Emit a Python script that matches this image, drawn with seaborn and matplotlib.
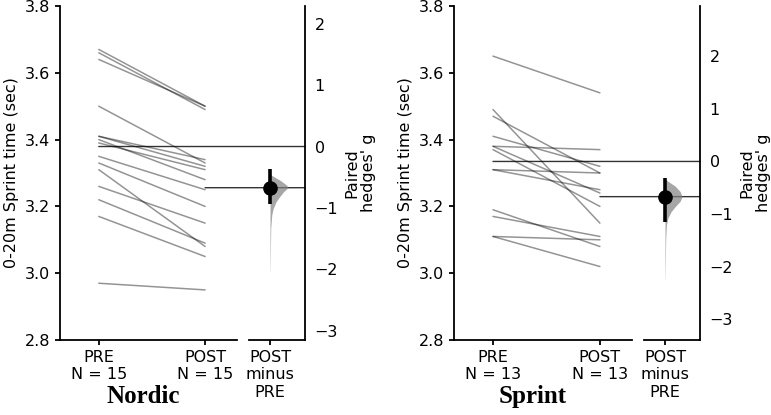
# -*- coding: utf-8 -*-
# %% imports
import numpy as np
import pandas as pd
import matplotlib
matplotlib.use('Agg')
import matplotlib.pyplot as plt
import seaborn as sns
from matplotlib.patches import ConnectionPatch

# %% values
groups = ['PRE', 'POST']

nordic_pre = [3.67, 3.66, 3.64, 3.50, 3.41, 3.41, 3.40, 3.39, 3.35, 3.33, 3.31, 3.26, 3.22, 3.17, 2.97]
nordic_post = [3.50, 3.49, 3.50, 3.33, 3.34, 3.32, 3.28, 3.31, 3.25, 3.20, 3.08, 3.15, 3.09, 3.05, 2.95]

sprint_pre = [3.65, 3.49, 3.47, 3.41, 3.38, 3.38, 3.37, 3.31, 3.31, 3.19, 3.17, 3.11, 3.11]
sprint_post = [3.54, 3.15, 3.30, 3.32, 3.37, 3.24, 3.20, 3.30, 3.25, 3.08, 3.11, 3.10, 3.02]

# paired hedges' g with 95% CI
nordic_g = -0.67
nordic_ci = [-0.37, -0.94]
sprint_g = -0.67
sprint_ci = [-0.31, -1.15]

# outline of the bootstrap distribution (g value, half width)
nordic_dist_g = [-0.44, -0.47, -0.55, -0.63, -0.67, -0.74, -0.82, -0.90, -1.01, -1.11, -1.33, -2.03]
nordic_dist_w = [0, 0.05, 0.29, 0.48, 0.51, 0.38, 0.27, 0.17, 0.09, 0.05, 0.02, 0.004]
sprint_dist_g = [-0.33, -0.38, -0.47, -0.57, -0.67, -0.76, -0.86, -0.96, -1.08, -1.21, -1.47, -2.24]
sprint_dist_w = [0, 0.09, 0.29, 0.43, 0.49, 0.43, 0.29, 0.17, 0.08, 0.04, 0.02, 0.004]

# %% style
sns.set_theme(style='ticks')
plt.rcParams['font.family'] = ['DejaVu Sans']
plt.rcParams['text.color'] = 'black'
plt.rcParams['axes.labelcolor'] = 'black'
plt.rcParams['axes.edgecolor'] = 'black'
plt.rcParams['axes.linewidth'] = 1.3
plt.rcParams['xtick.color'] = 'black'
plt.rcParams['ytick.color'] = 'black'
plt.rcParams['xtick.major.width'] = 1.3
plt.rcParams['ytick.major.width'] = 1.3
plt.rcParams['xtick.major.size'] = 3.5
plt.rcParams['ytick.major.size'] = 3.5
plt.rcParams['xtick.labelsize'] = 11.5
plt.rcParams['ytick.labelsize'] = 11.5
plt.rcParams['axes.labelsize'] = 11.5


def gardner_altman(fig, rect_main, rect_delta, pre, post, g, ci, dist_g, dist_w, title, title_x):
    ax = fig.add_axes(rect_main)
    dax = fig.add_axes(rect_delta)
    ax.patch.set_alpha(0)
    dax.patch.set_alpha(0)

    n = len(pre)
    df = pd.DataFrame({'subject': list(range(n)) * 2,
                       'phase': [0] * n + [1] * n,
                       'time': pre + post})
    sns.lineplot(data=df, x='phase', y='time', units='subject', estimator=None,
                 color='black', alpha=0.42, lw=1.1, ax=ax)
    ax.set_xlim(-0.365, 1.3)
    ax.set_ylim(2.8, 3.8)
    ax.set_yticks(np.arange(2.8, 3.81, 0.2))
    ax.yaxis.set_major_formatter('{x:.1f}')
    ax.set_xticks([0, 1])
    ax.set_xticklabels(['{}\nN = {}'.format(grp, n) for grp in groups])
    ax.set_ylabel('0-20m Sprint time (sec)')
    ax.set_xlabel(title, family=['Liberation Serif'], fontweight='bold', fontsize=18)
    ax.xaxis.set_label_coords(title_x, -0.135)
    ax.xaxis.label.set_va('top')
    sns.despine(ax=ax)

    # delta axis: 0 aligned with PRE mean, g aligned with POST mean
    m0, m1 = np.mean(pre), np.mean(post)
    scale = (m1 - m0) / g
    dax.set_ylim((2.8 - m0) / scale, (3.8 - m0) / scale)
    dax.set_xlim(-0.6, 1.0)
    dax.fill_betweenx(dist_g, 0, dist_w, color='gray', alpha=0.7, lw=0, zorder=2)
    dax.vlines(0, ci[0], ci[1], color='black', lw=2.6, zorder=3)
    dax.plot([0], [g], 'o', color='black', ms=9.5, zorder=4)
    dax.yaxis.tick_right()
    dax.yaxis.set_label_position('right')
    dax.set_yticks(np.arange(-3, 3))
    dax.set_xticks([0])
    dax.set_xticklabels(['POST\nminus\nPRE'])
    dax.set_ylabel("Paired\nhedges' g")
    sns.despine(ax=dax, left=True, right=False)

    for x, m, d in [(0, m0, 0), (1, m1, g)]:
        con = ConnectionPatch(xyA=(x, m), coordsA=ax.transData,
                              xyB=(1, d), coordsB=dax.get_yaxis_transform(),
                              color='black', lw=1.0, alpha=0.8, zorder=-1)
        fig.add_artist(con)
    return ax, dax


fig = plt.figure(figsize=(7.71, 4.15), dpi=100)
bottom, height = 0.1807, 0.8048
gardner_altman(fig, [0.0778, bottom, 0.2296, height], [0.3230, bottom, 0.0726, height],
               nordic_pre, nordic_post, nordic_g, nordic_ci,
               nordic_dist_g, nordic_dist_w, 'Nordic', 0.47)
gardner_altman(fig, [0.5888, bottom, 0.2309, height], [0.8353, bottom, 0.0726, height],
               sprint_pre, sprint_post, sprint_g, sprint_ci,
               sprint_dist_g, sprint_dist_w, 'Sprint', 0.44)

plt.savefig('out.png', dpi=100)
